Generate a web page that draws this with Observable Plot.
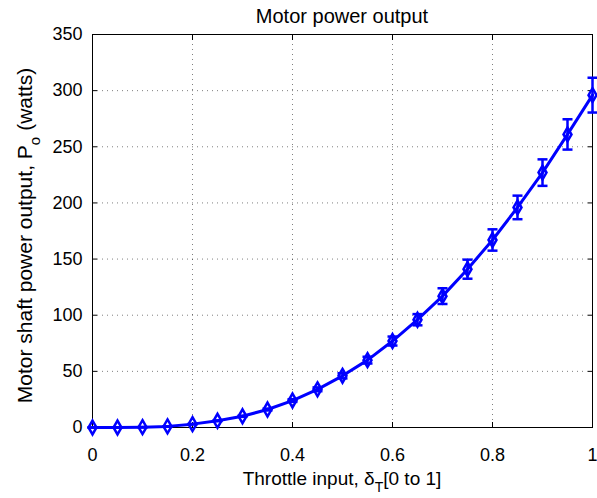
<!DOCTYPE html>
<html>
<head>
<meta charset="utf-8">
<script src="https://cdn.jsdelivr.net/npm/d3@7"></script>
<script src="https://cdn.jsdelivr.net/npm/@observablehq/plot@0.6"></script>
<style>
  html, body { margin: 0; padding: 0; background: #fff; }
  #chart svg { display: block; }
</style>
</head>
<body>
<div id="chart"></div>
<script>
const throttle = [0, 0.05, 0.1, 0.15, 0.2, 0.25, 0.3, 0.35, 0.4, 0.45, 0.5, 0.55, 0.6, 0.65, 0.7, 0.75, 0.8, 0.85, 0.9, 0.95, 1.0];
const power    = [0, 0, 0.3, 1, 3, 6, 10, 16, 24, 34, 46, 60, 77, 96, 117, 141, 167, 196, 227, 261, 296];
const powerErr = [0, 0, 0, 0.1, 0.2, 0.3, 0.5, 0.8, 1.2, 1.7, 2.3, 3, 4, 5, 7, 8.5, 9.5, 10.5, 11.8, 13.5, 15.5];
const xTicks = [0, 0.2, 0.4, 0.6, 0.8, 1];
const yTicks = [0, 50, 100, 150, 200, 250, 300, 350];
const titleText = "Motor power output";

const data = throttle.map((t, i) => ({t, p: power[i], lo: power[i] - powerErr[i], hi: power[i] + powerErr[i]}));

const capSymbol = {
  draw(ctx, size) {
    const r = Math.sqrt(size / Math.PI);
    ctx.moveTo(-r, 0);
    ctx.lineTo(r, 0);
  }
};

const blue = "#0000ff";
const font = "'Liberation Sans', Arial, Helvetica, sans-serif";

const chart = Plot.plot({
  width: 597,
  height: 498,
  marginLeft: 92,
  marginRight: 5,
  marginTop: 34,
  marginBottom: 71,
  style: {fontFamily: font, fontSize: "18px", color: "#000", background: "#fff"},
  x: {domain: [0, 1], ticks: xTicks, label: null},
  y: {domain: [0, 350], ticks: yTicks, label: null},
  marks: [
    Plot.gridX(xTicks, {stroke: "#000", strokeOpacity: 0.5, strokeDasharray: "1,4"}),
    Plot.gridY(yTicks, {stroke: "#000", strokeOpacity: 0.5, strokeDasharray: "1,4"}),
    Plot.axisX(xTicks, {anchor: "bottom", tickSize: 0, tickPadding: 21, tickFormat: d3.format("~g"), fontSize: 18, label: null}),
    Plot.axisY(yTicks, {anchor: "left", tickSize: 0, tickPadding: 10, fontSize: 18, label: null}),
    Plot.axisX(xTicks, {anchor: "bottom", tickSize: -5, text: null, label: null}),
    Plot.axisX(xTicks, {anchor: "top", tickSize: -5, text: null, label: null}),
    Plot.axisY(yTicks, {anchor: "left", tickSize: -5, text: null, label: null}),
    Plot.axisY(yTicks, {anchor: "right", tickSize: -5, text: null, label: null}),
    Plot.frame({stroke: "#000", strokeWidth: 1}),
    Plot.ruleX(data, {x: "t", y1: "lo", y2: "hi", stroke: blue, strokeWidth: 2.5}),
    Plot.dot(data, {x: "t", y: "lo", symbol: capSymbol, r: 5, stroke: blue, strokeWidth: 2.5}),
    Plot.dot(data, {x: "t", y: "hi", symbol: capSymbol, r: 5, stroke: blue, strokeWidth: 2.5}),
    Plot.line(data, {x: "t", y: "p", stroke: blue, strokeWidth: 3}),
    Plot.dot(data, {x: "t", y: "p", symbol: "diamond", r: 4.2, stroke: blue, strokeWidth: 2.5, fill: "none"})
  ]
});

document.getElementById("chart").appendChild(chart);

const svg = d3.select(chart);
const cx = 92 + (597 - 92 - 5) / 2;
const cy = 34 + (498 - 34 - 71) / 2;

// Title
svg.append("text")
  .attr("x", cx).attr("y", 23)
  .attr("text-anchor", "middle")
  .attr("font-family", font).attr("font-size", 20).attr("fill", "#000")
  .text(titleText);

// X label with subscript
const xl = svg.append("text")
  .attr("x", cx).attr("y", 485)
  .attr("text-anchor", "middle")
  .attr("font-family", font).attr("font-size", 19).attr("fill", "#000");
xl.append("tspan").text("Throttle input, δ");
xl.append("tspan").attr("dy", 7).attr("font-size", 14).text("T");
xl.append("tspan").attr("dy", -7).text("[0 to 1]");

// Y label with subscript
const yl = svg.append("text")
  .attr("transform", `translate(32,${cy + 5}) rotate(-90)`)
  .attr("text-anchor", "middle")
  .attr("font-family", font).attr("font-size", 21).attr("fill", "#000");
yl.append("tspan").text("Motor shaft power output, P");
yl.append("tspan").attr("dy", 8).attr("font-size", 15).text("o");
yl.append("tspan").attr("dy", -8).attr("dx", 6).text("(watts)");
</script>
</body>
</html>
